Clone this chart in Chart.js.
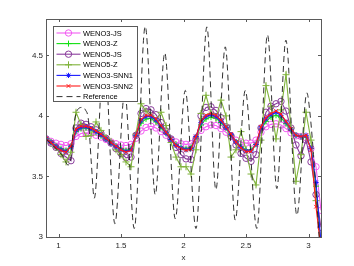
<!DOCTYPE html>
<html>
<head>
<meta charset="utf-8">
<script src="https://cdn.jsdelivr.net/npm/chart.js@4/dist/chart.umd.min.js"></script>
<style>
html,body{margin:0;padding:0;background:#fff;}
canvas{display:block;}
</style>
</head>
<body>
<canvas id="c" width="354" height="266"></canvas>
<script>
const xs = [0.90,0.94,0.98,1.02,1.06,1.10,1.14,1.18,1.22,1.26,
            1.30,1.34,1.38,1.42,1.46,1.50,1.54,1.58,1.62,1.66,
            1.70,1.74,1.78,1.82,1.86,1.90,1.94,1.98,2.02,2.06,
            2.10,2.14,2.18,2.22,2.26,2.30,2.34,2.38,2.42,2.46,
            2.50,2.54,2.58,2.62,2.66,2.70,2.74,2.78,2.82,2.86,
            2.90,2.94,2.98,3.02,3.06,3.10];

const weno3js = [3.81,3.79,3.775,3.765,3.755,3.77,3.83,3.855,3.86,3.855,
                 3.84,3.825,3.805,3.785,3.77,3.76,3.755,3.765,3.815,3.875,
                 3.905,3.915,3.90,3.87,3.84,3.805,3.785,3.77,3.765,3.77,
                 3.815,3.88,3.91,3.925,3.92,3.895,3.865,3.83,3.80,3.785,
                 3.775,3.775,3.80,3.865,3.91,3.93,3.935,3.925,3.895,3.86,
                 3.835,3.83,3.82,3.73,3.58,3.22];

const weno3z = [3.81,3.785,3.75,3.73,3.715,3.75,3.87,3.895,3.90,3.885,
                3.865,3.835,3.81,3.775,3.75,3.73,3.715,3.73,3.835,3.94,
                3.975,3.98,3.95,3.905,3.855,3.805,3.765,3.74,3.73,3.74,
                3.825,3.925,3.975,3.99,3.98,3.945,3.90,3.84,3.785,3.745,
                3.72,3.72,3.765,3.89,3.955,3.99,4.005,3.985,3.935,3.88,
                3.84,3.83,3.825,3.73,3.42,2.90];

const weno5js = [3.81,3.775,3.74,3.69,3.66,3.63,3.90,3.94,3.93,3.91,
                 3.885,3.855,3.815,3.775,3.73,3.69,3.655,3.66,3.84,4.02,
                 4.06,4.05,4.01,3.945,3.875,3.81,3.74,3.68,3.645,3.64,
                 3.80,4.00,4.07,4.075,4.045,3.985,3.91,3.835,3.76,3.69,
                 3.65,3.625,3.68,3.90,4.03,4.08,4.10,4.12,4.04,3.90,
                 3.76,3.67,3.80,3.62,3.35,3.08];

const weno5z = [3.81,3.775,3.74,3.68,3.62,3.70,4.03,3.93,3.83,3.84,
                3.95,3.88,3.82,3.79,3.72,3.68,3.62,3.58,3.85,4.10,
                4.04,4.00,3.96,4.03,3.92,3.78,3.66,3.58,3.58,3.52,
                3.72,4.02,4.17,4.02,3.98,4.13,4.00,3.66,3.72,3.87,
                3.72,3.52,3.43,3.80,4.25,4.08,3.81,4.05,4.34,3.90,
                3.46,3.68,4.03,3.80,3.30,2.95];

const snn1 = [3.81,3.78,3.745,3.72,3.705,3.745,3.88,3.905,3.91,3.895,
              3.87,3.845,3.81,3.775,3.745,3.72,3.705,3.72,3.84,3.96,
              3.995,3.995,3.965,3.915,3.86,3.805,3.755,3.735,3.72,3.73,
              3.83,3.945,3.995,4.01,3.995,3.955,3.905,3.845,3.785,3.74,
              3.71,3.71,3.765,3.90,3.975,4.01,4.03,4.005,3.95,3.89,
              3.84,3.83,3.84,3.73,3.45,2.95];

const snn2 = [3.81,3.78,3.74,3.715,3.70,3.75,3.89,3.915,3.915,3.90,
              3.875,3.85,3.815,3.78,3.75,3.72,3.70,3.715,3.84,3.97,
              4.005,4.005,3.975,3.92,3.865,3.81,3.755,3.73,3.715,3.725,
              3.83,3.955,4.005,4.02,4.005,3.965,3.91,3.85,3.785,3.735,
              3.705,3.705,3.765,3.91,3.985,4.02,4.04,4.015,3.955,3.895,
              3.84,3.83,3.84,3.72,3.25,2.90];

const refX = [0.90,0.98,1.04,1.075,1.10,1.115,1.135,1.16,1.19,1.215,
              1.24,1.262,1.286,1.365,1.451,1.53,1.606,1.694,1.774,1.85,
              1.934,2.014,2.10,2.187,2.259,2.334,2.414,2.494,2.587,2.672,
              2.747,2.819,2.907,2.987,3.014,3.04,3.067,3.085,3.10];
const refY = [3.81,3.73,3.66,3.595,3.66,3.85,4.00,4.06,4.07,4.05,
              3.96,3.62,3.32,4.55,3.11,4.20,3.07,4.74,3.35,4.52,
              3.15,4.21,3.07,4.735,3.39,4.57,3.14,4.21,3.07,4.67,
              3.40,4.625,3.18,4.19,4.00,3.68,3.29,3.00,2.80];

const xTicks = [1, 1.5, 2, 2.5, 3];
const yTicks = [3, 3.5, 4, 4.5];
const labels = ['WENO3-JS','WENO3-Z','WENO5-JS','WENO5-Z','WENO3-SNN1','WENO3-SNN2','Reference'];

const pts = arr => arr.map((v, i) => ({x: xs[i], y: v}));
const FONT = '"Liberation Sans", Arial, Helvetica, sans-serif';

function series(label, data, color, style, radius, order) {
  return {
    label, data: pts(data), borderColor: color, backgroundColor: 'rgba(0,0,0,0)',
    borderWidth: 1.1, pointStyle: style, pointRadius: radius, pointBorderWidth: 1,
    pointBackgroundColor: 'rgba(0,0,0,0)', pointBorderColor: color,
    tension: 0, order
  };
}

const datasets = [
  series(labels[0], weno3js, '#f25cf2', 'circle', 3.2, 7),
  series(labels[1], weno3z, '#11e011', 'cross', 3, 6),
  series(labels[2], weno5js, '#8a3d9c', 'circle', 3.2, 5),
  series(labels[3], weno5z, '#7fb23a', 'cross', 3.5, 4),
  series(labels[4], snn1, '#1a1aff', 'star', 2.6, 3),
  series(labels[5], snn2, '#ff1a1a', 'crossRot', 2.6, 2),
  {
    label: labels[6], data: refX.map((x, i) => ({x, y: refY[i]})),
    borderColor: '#1a1a1a', borderWidth: 0.9, borderDash: [6, 4],
    pointRadius: 0, cubicInterpolationMode: 'monotone', order: 1,
    backgroundColor: 'rgba(0,0,0,0)'
  }
];

const framePlugin = {
  id: 'frame',
  afterDatasetsDraw(chart) {
    const {ctx, chartArea: a, scales: {x, y}} = chart;
    ctx.save();
    ctx.strokeStyle = '#5a5a5a';
    ctx.lineWidth = 1;
    const L = 3;
    const line = (x1, y1, x2, y2) => { ctx.beginPath(); ctx.moveTo(x1, y1); ctx.lineTo(x2, y2); ctx.stroke(); };
    ctx.strokeRect(Math.round(a.left) + 0.5, Math.round(a.top) + 0.5, Math.round(a.right - a.left), Math.round(a.bottom - a.top));
    x.ticks.forEach(t => {
      const p = Math.round(x.getPixelForValue(t.value)) + 0.5;
      line(p, a.bottom, p, a.bottom - L);
      line(p, a.top, p, a.top + L);
    });
    y.ticks.forEach(t => {
      const p = Math.round(y.getPixelForValue(t.value)) + 0.5;
      line(a.left, p, a.left + L, p);
      line(a.right, p, a.right - L, p);
    });
    ctx.restore();
  }
};

const legendPlugin = {
  id: 'boxLegend',
  afterDraw(chart) {
    const ctx = chart.ctx;
    const x0 = 53.5, y0 = 26.5, w = 84, h = 75;
    ctx.save();
    ctx.fillStyle = '#ffffff';
    ctx.fillRect(x0, y0, w, h);
    ctx.strokeStyle = '#5a5a5a';
    ctx.lineWidth = 1;
    ctx.strokeRect(x0, y0, w, h);
    chart.data.datasets.forEach((ds, i) => {
      const yy = y0 + 6.5 + i * 10.6;
      ctx.save();
      ctx.setLineDash(ds.borderDash || []);
      ctx.strokeStyle = ds.borderColor;
      ctx.lineWidth = ds.borderWidth;
      ctx.beginPath();
      ctx.moveTo(x0 + 3, yy);
      ctx.lineTo(x0 + 27, yy);
      ctx.stroke();
      ctx.restore();
      if (ds.pointRadius > 0) {
        ctx.save();
        ctx.strokeStyle = ds.pointBorderColor;
        ctx.fillStyle = 'rgba(0,0,0,0)';
        ctx.lineWidth = ds.pointBorderWidth;
        Chart.helpers.drawPoint(ctx, {pointStyle: ds.pointStyle, radius: ds.pointRadius, borderWidth: ds.pointBorderWidth, rotation: 0}, x0 + 15, yy);
        ctx.restore();
      }
      ctx.fillStyle = '#000';
      ctx.font = '7.5px ' + FONT;
      ctx.textBaseline = 'middle';
      ctx.textAlign = 'left';
      ctx.fillText(ds.label, x0 + 29.5, yy + 0.5);
    });
    ctx.restore();
  }
};

new Chart(document.getElementById('c'), {
  type: 'line',
  data: {datasets},
  options: {
    responsive: false,
    animation: false,
    devicePixelRatio: 1,
    layout: {padding: {left: 0, right: 33, top: 19, bottom: 0}},
    plugins: {legend: {display: false}, tooltip: {enabled: false}},
    scales: {
      x: {
        type: 'linear', min: 0.9, max: 3.1,
        afterBuildTicks: s => { s.ticks = xTicks.map(v => ({value: v})); },
        afterFit: s => { s.height = 29; },
        grid: {display: false, drawTicks: false},
        border: {display: false},
        ticks: {padding: 4, color: '#262626', font: {family: FONT, size: 8}, callback: v => String(v), maxRotation: 0, autoSkip: false},
        title: {display: true, text: 'x', color: '#262626', font: {family: FONT, size: 8}, padding: {top: 0, bottom: 3}}
      },
      y: {
        type: 'linear', min: 3, max: 4.8,
        afterBuildTicks: s => { s.ticks = yTicks.map(v => ({value: v})); },
        afterFit: s => { s.width = 46; },
        grid: {display: false, drawTicks: false},
        border: {display: false},
        ticks: {padding: 3, color: '#262626', font: {family: FONT, size: 8}, callback: v => String(v), autoSkip: false}
      }
    }
  },
  plugins: [framePlugin, legendPlugin]
});
</script>
</body>
</html>
